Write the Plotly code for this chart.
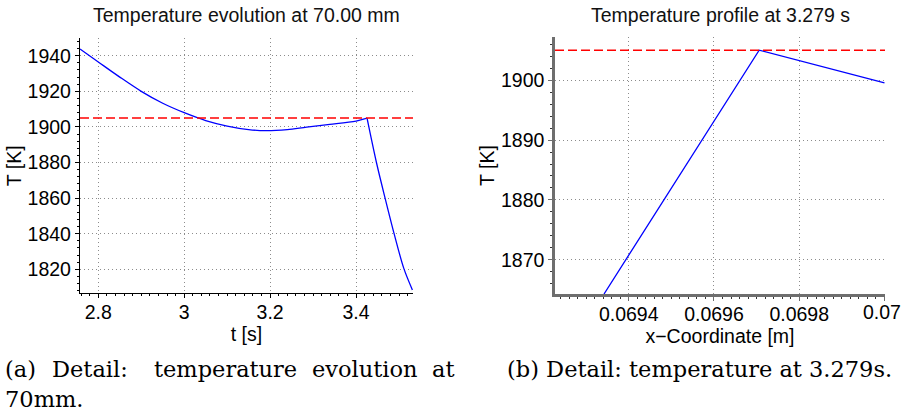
import plotly.graph_objects as go

W, H = 903, 414

# ---- data ----
t_s = [2.7574, 2.800, 2.850, 2.900, 2.950, 3.000, 3.050, 3.100, 3.150, 3.190,
       3.240, 3.285, 3.339, 3.400, 3.4256, 3.4475, 3.4676, 3.4886, 3.5112, 3.5312]
T_evol = [1943.8, 1936.5, 1928.0, 1920.0, 1913.3, 1908.0, 1903.6, 1900.5, 1898.5, 1897.9,
          1898.5, 1899.9, 1901.4, 1903.3, 1904.9, 1880.0, 1860.0, 1840.0, 1820.5, 1808.4]
peak_index = 14  # index of the kink where the temperature starts to drop

x_m = [0.069342, 0.069706, 0.070000]
T_prof = [1864.3, 1905.0, 1899.55]

T_melt = 1905.0

xticks_a = [2.8, 3.0, 3.2, 3.4]
xticklabels_a = ["2.8", "3", "3.2", "3.4"]
yticks_a = [1820, 1840, 1860, 1880, 1900, 1920, 1940]
xticks_b = [0.0694, 0.0696, 0.0698, 0.07]
xticklabels_b = ["0.0694", "0.0696", "0.0698", "0.07"]
yticks_b = [1870, 1880, 1890, 1900]

title_a = "Temperature evolution at 70.00 mm"
title_b = "Temperature profile at 3.279 s"
xlabel_a = "t [s]"
xlabel_b = "x\u2212Coordinate [m]"
ylabel = "T [K]"
caption_a_words = ["(a)", "Detail:", "temperature", "evolution", "at"]
caption_a_line2 = "70mm."
caption_b = "(b) Detail: temperature at 3.279s."

# ---- helpers ----
def px(x):
    return x / W

def py(y):
    return 1 - y / H

FONT = "Liberation Sans, Arial, sans-serif"
SERIF = "DejaVu Serif, serif"
FS = 19.5
GRID = "#8c8c8c"
BLUE = dict(color="#0000ff", width=1.3, shape="spline", smoothing=0.9)

fig = go.Figure()
fig.add_trace(go.Scatter(x=t_s[:peak_index + 1], y=T_evol[:peak_index + 1], mode="lines", line=BLUE,
                         xaxis="x", yaxis="y", showlegend=False))
fig.add_trace(go.Scatter(x=t_s[peak_index:], y=T_evol[peak_index:], mode="lines", line=BLUE,
                         xaxis="x", yaxis="y", showlegend=False))
fig.add_trace(go.Scatter(x=x_m, y=T_prof, mode="lines", line=dict(color="#0000ff", width=1.3),
                         xaxis="x2", yaxis="y2", showlegend=False))

for xr, yr in (("x", "y"), ("x2", "y2")):
    fig.add_shape(type="line", xref=f"{xr} domain", yref=yr, x0=0, x1=1, y0=T_melt, y1=T_melt,
                  line=dict(color="#ff0000", width=1.5, dash="9px,4px"))

def axis_common(color, lw):
    return dict(showline=True, linecolor=color, linewidth=lw, ticks="outside", ticklen=4,
                tickwidth=1, tickcolor=color, showgrid=True, gridcolor=GRID, gridwidth=1,
                griddash="1px,3px", zeroline=False, mirror=False,
                tickfont=dict(family=FONT, size=FS, color="black"),
                title_font=dict(family=FONT, size=FS, color="black"))

xa = axis_common("black", 1.3)
xa.update(domain=[px(80), px(413)], range=[2.7574, 3.5326], tickvals=xticks_a, ticktext=xticklabels_a,
          anchor="y", title_text=xlabel_a, title_standoff=2, ticklabelstandoff=-3,
          minor=dict(ticks="outside", ticklen=2, tickcolor="black", dtick=0.02, tick0=2.8, showgrid=False))
ya = axis_common("black", 1.3)
ya.update(domain=[py(293.3), py(38.3)], range=[1806.5, 1949.8], tickvals=yticks_a,
          anchor="x", ticklabelstandoff=0, title_text=ylabel, title_standoff=0,
          minor=dict(ticks="outside", ticklen=2, tickcolor="black", dtick=4, tick0=1820, showgrid=False))

# the last tick label sits at the page edge; it is drawn as an annotation so it cannot widen the page
xb_ticktext = xticklabels_b[:-1] + [""]
xb = axis_common("#6e6e6e", 2.5)
xb.update(domain=[px(555), px(885)], range=[0.069227, 0.0700012], tickvals=xticks_b, ticktext=xb_ticktext,
          anchor="y2", title_text=xlabel_b, title_standoff=2, ticklabelstandoff=-3,
          minor=dict(ticks="outside", ticklen=2, tickcolor="#333", dtick=0.00002, tick0=0.0694, showgrid=False))
yb = axis_common("#6e6e6e", 2.5)
yb.update(domain=[py(294), py(37)], range=[1864.3, 1907.2], tickvals=yticks_b,
          anchor="x2", ticklabelstandoff=0, title_text=ylabel, title_standoff=2,
          minor=dict(ticks="outside", ticklen=2, tickcolor="#333", dtick=2, tick0=1870, showgrid=False))

annotations = [
    dict(text=title_a, x=px(246.5), y=py(15), xref="paper", yref="paper", showarrow=False,
         xanchor="center", yanchor="middle", font=dict(family=FONT, size=FS, color="#111")),
    dict(text=title_b, x=px(720), y=py(15), xref="paper", yref="paper", showarrow=False,
         xanchor="center", yanchor="middle", font=dict(family=FONT, size=FS, color="#111")),
    dict(text=xticklabels_b[-1], x=px(902.5), y=py(312), xref="paper", yref="paper", showarrow=False,
         xanchor="right", yanchor="middle", font=dict(family=FONT, size=FS, color="black")),
]
cap_x = [2.7, 50, 151.7, 310, 430]
for w, x0 in zip(caption_a_words, cap_x):
    annotations.append(dict(text=w, x=px(x0), y=py(369), xref="paper", yref="paper", showarrow=False,
                            xanchor="left", yanchor="middle", font=dict(family=SERIF, size=22.5, color="black")))
annotations.append(dict(text=caption_a_line2, x=px(2.7), y=py(399), xref="paper", yref="paper", showarrow=False,
                        xanchor="left", yanchor="middle", font=dict(family=SERIF, size=22.5, color="black")))
annotations.append(dict(text=caption_b, x=px(505), y=py(369), xref="paper", yref="paper", showarrow=False,
                        xanchor="left", yanchor="middle", font=dict(family=SERIF, size=22.5, color="black")))

fig.update_layout(
    width=W, height=H, margin=dict(l=0, r=0, t=0, b=0),
    paper_bgcolor="white", plot_bgcolor="white",
    xaxis=xa, yaxis=ya, xaxis2=xb, yaxis2=yb,
    annotations=annotations, showlegend=False,
)

fig.write_html("out.html")
